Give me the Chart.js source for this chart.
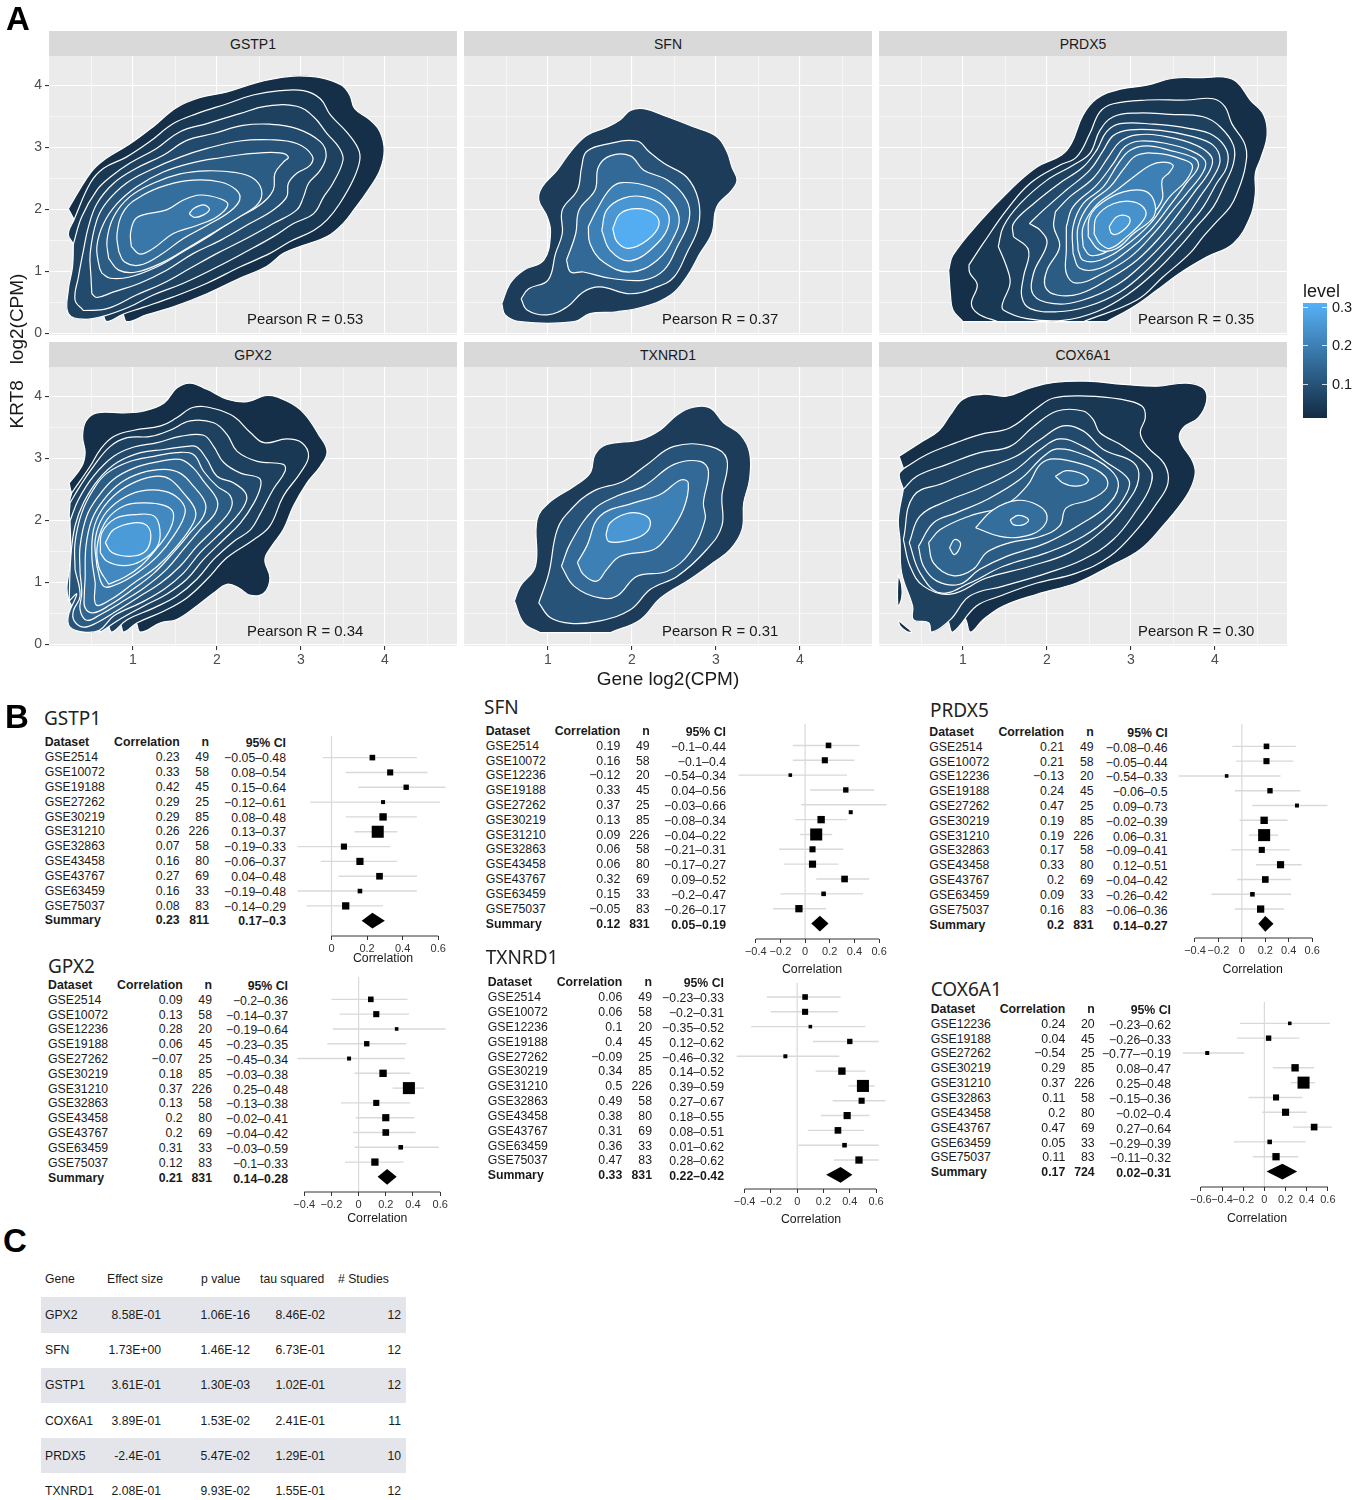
<!DOCTYPE html>
<html>
<head>
<meta charset="utf-8">
<title>KRT8 correlation figure</title>
<script src="https://cdn.jsdelivr.net/npm/chart.js@4"></script>
<style>
  html, body { margin: 0; background: #fff; }
  #page { position: relative; width: 1357px; height: 1500px; overflow: hidden; font-family: "Liberation Sans", Arial, sans-serif; }
  #page canvas { position: absolute; }
  .t { position: absolute; white-space: pre; line-height: 1; color: #1a1a1a; }
  .box { position: absolute; }
</style>
</head>
<body>
<div id="page"></div>
<script>
// ---- panel A: density contours, x,y pairs in log2(CPM), outer level first ----
const panelNames = ['GSTP1', 'SFN', 'PRDX5', 'GPX2', 'TXNRD1', 'COX6A1'];
const pearsonLabels = ['Pearson R = 0.53', 'Pearson R = 0.37', 'Pearson R = 0.35', 'Pearson R = 0.34', 'Pearson R = 0.31', 'Pearson R = 0.30'];

const gstp1Levels = [.02, .04, .06, .08, .10, .12, .14, .16, .18, .20];
const gstp1Contours = [
  [.23,2.01,.49,2.58,.65,2.79,.96,3.05,1.24,3.33,1.52,3.64,1.80,3.80,2.12,3.89,2.47,4.04,2.75,4.12,2.97,4.15,3.23,4.12,3.48,4.00,3.58,3.84,3.64,3.62,3.82,3.44,3.94,3.25,3.99,2.95,3.94,2.63,3.80,2.31,3.64,2.01,3.50,1.77,3.31,1.56,3.03,1.42,2.79,1.29,2.59,1.08,2.27,.89,1.88,.64,1.48,.43,1.16,.30,.93,.19,.88,.32,.30,1.83],
  [.30,1.84,.49,2.42,.65,2.66,.92,2.84,1.20,3.09,1.48,3.38,1.76,3.54,2.12,3.70,2.43,3.84,2.75,3.91,3.03,3.91,3.23,3.78,3.35,3.52,3.54,3.25,3.68,2.98,3.70,2.79,3.62,2.47,3.46,2.09,3.31,1.83,3.15,1.66,2.87,1.48,2.63,1.29,2.27,1.07,1.88,.81,1.48,.59,1.12,.42,.88,.31,.69,.19,.65,.28,.29,1.44,.23,1.60],
  [.29,1.44,.39,1.88,.57,2.31,.73,2.52,.96,2.74,1.28,2.98,1.56,3.25,1.88,3.38,2.27,3.54,2.59,3.66,2.95,3.66,3.15,3.49,3.31,3.22,3.46,2.98,3.50,2.79,3.38,2.42,3.27,2.20,3.15,1.93,2.91,1.77,2.67,1.56,2.35,1.32,2.00,1.07,1.60,.81,1.24,.62,.96,.43,.65,.28,.41,.23,.23,.32,.23,.70,.28,1.07],
  [.41,.37,.31,.54,.35,.91,.41,1.34,.47,1.72,.57,2.09,.77,2.42,1.04,2.66,1.36,2.87,1.64,3.11,1.96,3.22,2.31,3.35,2.63,3.37,2.95,3.30,3.23,3.09,3.30,2.87,3.23,2.63,3.09,2.42,3.03,2.20,2.95,1.99,2.67,1.77,2.35,1.53,2.00,1.29,1.68,1.05,1.36,.81,1.04,.62,.69,.40],
  [.51,.64,.50,.91,.49,1.29,.57,1.83,.69,2.12,.92,2.42,1.20,2.63,1.56,2.84,1.88,2.98,2.27,3.10,2.63,3.12,2.95,3.06,3.13,2.87,3.11,2.71,2.95,2.58,2.85,2.42,2.83,2.20,2.67,1.99,2.39,1.77,2.04,1.50,1.72,1.29,1.40,1.02,1.08,.81,.77,.67,.57,.58],
  [.63,.97,.60,1.07,.57,1.40,.65,1.77,.81,2.09,1.04,2.36,1.36,2.60,1.68,2.74,2.04,2.83,2.43,2.90,2.75,2.91,2.85,2.84,2.79,2.76,2.69,2.58,2.67,2.31,2.51,2.07,2.23,1.85,1.92,1.58,1.60,1.32,1.28,1.07,.96,.91,.73,.89],
  [.71,1.21,.69,1.50,.77,1.88,.96,2.20,1.24,2.42,1.56,2.57,1.88,2.62,2.23,2.59,2.43,2.50,2.53,2.31,2.49,2.09,2.27,1.88,2.00,1.66,1.68,1.40,1.36,1.15,1.04,.99,.83,1.02],
  [.83,1.32,.81,1.61,.90,1.99,1.12,2.23,1.40,2.39,1.72,2.47,2.04,2.44,2.23,2.31,2.27,2.15,2.15,1.96,1.88,1.74,1.60,1.53,1.32,1.26,1.08,1.10,.90,1.15],
  [.98,1.40,.97,1.61,1.02,1.83,1.12,1.91,1.40,1.99,1.60,2.15,1.80,2.23,2.04,2.17,2.13,2.07,2.00,1.88,1.76,1.74,1.48,1.61,1.24,1.37,1.08,1.28],
  [1.67,1.93,1.72,2.01,1.84,2.07,1.91,2.00,1.84,1.91,1.73,1.87]
];

const sfnLevels = [.05, .10, .15, .20, .25, .30];
const sfnContours = [
  [.45,.48,.55,.81,.71,1.02,.95,1.18,1.03,1.61,.99,1.88,.89,2.15,.93,2.36,1.11,2.63,1.27,2.93,1.46,3.19,1.70,3.32,1.86,3.44,1.98,3.59,2.14,3.62,2.42,3.49,2.73,3.33,3.01,3.17,3.13,2.93,3.19,2.68,3.25,2.47,3.19,2.31,3.01,2.04,2.95,1.61,2.81,1.29,2.65,.91,2.46,.62,2.14,.43,1.82,.35,1.50,.32,1.31,.19,.67,.19,.49,.30],
  [.68,.56,.77,.72,1.00,.86,1.09,1.29,1.17,1.61,1.17,1.99,1.35,2.31,1.40,2.68,1.46,2.93,1.70,3.05,2.06,3.10,2.20,2.93,2.38,2.74,2.65,2.52,2.79,2.15,2.79,1.72,2.65,1.29,2.50,.91,2.30,.75,1.98,.64,1.62,.75,1.42,.67,1.23,.43,.99,.30,.75,.38],
  [1.22,1.18,1.33,1.61,1.37,1.99,1.56,2.31,1.60,2.68,1.74,2.86,1.98,2.86,2.14,2.63,2.42,2.47,2.65,2.15,2.68,1.83,2.54,1.40,2.38,1.02,2.14,.86,1.74,.89,1.42,.99,1.27,.99],
  [1.48,1.72,1.58,1.99,1.74,2.33,1.88,2.43,2.22,2.36,2.44,2.17,2.56,1.88,2.50,1.56,2.30,1.18,1.98,.99,1.66,1.15,1.50,1.45],
  [1.64,1.66,1.70,1.99,1.90,2.18,2.14,2.20,2.38,2.04,2.44,1.77,2.30,1.45,1.98,1.17,1.74,1.34],
  [1.77,1.69,1.86,1.93,2.06,2.01,2.26,1.93,2.32,1.74,2.18,1.50,1.96,1.37,1.82,1.48]
];

const prdx5Levels = [.02, .04, .06, .08, .10, .12, .14, .16, .18, .20, .22, .24, .26];
const prdx5Contours = [
  [.83,1.02,.88,1.26,1.20,1.80,1.56,2.31,1.88,2.68,2.17,2.87,2.29,3.06,2.43,3.52,2.59,3.78,2.83,3.92,3.19,4.00,3.50,4.11,3.86,4.12,4.10,4.13,4.26,4.05,4.42,3.76,4.58,3.52,4.62,3.19,4.55,2.84,4.48,2.58,4.48,2.25,4.42,1.88,4.22,1.45,3.90,1.23,3.58,.97,3.31,.70,3.03,.43,2.71,.19,2.71,.19,1.00,.19,1.00,.19,.88,.38,.85,.64],
  [1.07,1.10,1.24,1.45,1.52,1.99,1.80,2.42,2.15,2.71,2.35,2.84,2.51,3.22,2.63,3.57,2.79,3.70,3.19,3.76,3.66,3.76,3.98,3.78,4.12,3.65,4.20,3.38,4.36,3.03,4.36,2.68,4.26,2.25,4.18,2.04,4.02,1.80,3.86,1.56,3.70,1.29,3.38,.91,3.07,.54,2.43,.19,2.43,.19,1.42,.19,1.42,.19,1.18,.32,1.10,.48,1.17,.78,1.08,.98],
  [1.42,1.40,1.48,1.72,1.68,2.09,2.00,2.47,2.31,2.71,2.51,2.90,2.63,3.27,2.79,3.49,3.07,3.55,3.46,3.53,3.86,3.49,4.06,3.33,4.22,3.03,4.22,2.74,4.10,2.36,3.98,2.04,3.78,1.72,3.58,1.40,3.27,.97,2.95,.62,2.59,.35,2.19,.21,1.76,.24,1.48,.38,1.47,.48,1.56,.81,1.52,1.07],
  [1.60,1.56,1.60,1.77,1.84,2.09,2.15,2.42,2.43,2.68,2.59,2.95,2.71,3.25,2.87,3.38,3.27,3.37,3.70,3.30,3.98,3.19,4.14,2.95,4.14,2.68,4.02,2.42,3.86,2.04,3.70,1.77,3.46,1.40,3.19,1.02,2.87,.67,2.47,.43,2.12,.35,1.80,.40,1.70,.59,1.72,.91,1.78,1.34],
  [1.79,1.77,1.96,1.99,2.23,2.31,2.51,2.63,2.67,2.95,2.79,3.19,2.99,3.28,3.35,3.27,3.74,3.17,3.98,3.03,4.06,2.79,3.98,2.52,3.82,2.20,3.66,1.88,3.42,1.50,3.15,1.13,2.83,.78,2.43,.54,2.08,.48,1.84,.62,1.84,.97,2.00,1.45,1.92,1.66],
  [2.10,1.96,2.27,2.20,2.55,2.50,2.73,2.84,2.87,3.09,3.07,3.20,3.42,3.17,3.78,3.03,3.96,2.84,3.94,2.63,3.74,2.25,3.58,1.96,3.35,1.56,3.07,1.18,2.75,.89,2.39,.64,2.12,.62,1.98,.75,2.00,1.02,2.15,1.40,2.08,1.72],
  [2.23,1.72,2.31,2.04,2.59,2.39,2.79,2.74,2.93,3.01,3.11,3.10,3.42,3.06,3.70,2.95,3.88,2.79,3.86,2.60,3.66,2.25,3.50,1.99,3.27,1.61,2.99,1.23,2.67,.97,2.35,.81,2.23,.97,2.23,1.34],
  [2.31,1.29,2.31,1.72,2.43,2.09,2.67,2.36,2.85,2.74,2.99,2.95,3.19,3.02,3.46,2.95,3.76,2.82,3.80,2.68,3.66,2.42,3.48,2.09,3.23,1.66,2.95,1.32,2.63,1.05,2.39,1.05],
  [2.37,1.34,2.37,1.72,2.51,2.09,2.75,2.36,2.93,2.68,3.07,2.87,3.31,2.90,3.58,2.82,3.73,2.71,3.66,2.47,3.46,2.20,3.23,1.77,2.91,1.39,2.63,1.18,2.43,1.18],
  [2.43,1.40,2.43,1.72,2.59,2.07,2.83,2.31,3.03,2.52,3.23,2.71,3.38,2.76,3.50,2.71,3.46,2.60,3.37,2.47,3.37,2.15,3.19,1.83,2.91,1.48,2.67,1.29,2.51,1.26],
  [2.49,1.56,2.51,1.88,2.67,2.12,2.91,2.28,3.15,2.30,3.27,2.15,3.27,1.88,3.03,1.61,2.83,1.37,2.63,1.34],
  [2.56,1.61,2.59,1.88,2.79,2.09,3.03,2.12,3.17,1.99,3.15,1.83,2.95,1.56,2.75,1.37,2.63,1.45],
  [2.74,1.72,2.83,1.88,2.97,1.88,2.98,1.77,2.85,1.61,2.77,1.61]
];

const gpx2Levels = [.02, .04, .06, .08, .10, .12, .14, .16, .18, .20, .22, .24, .26];
const gpx2Contours = [
  [.24,2.60,.39,2.87,.43,3.09,.40,3.35,.44,3.60,.57,3.73,.89,3.73,1.13,3.76,1.37,3.89,1.52,4.13,1.68,4.21,1.88,4.11,2.12,3.95,2.36,3.91,2.60,4.01,2.83,3.92,3.03,3.73,3.21,3.38,3.31,3.11,3.23,2.87,3.07,2.60,2.91,2.23,2.79,1.85,2.65,1.58,2.57,1.37,2.63,1.07,2.56,.83,2.40,.79,2.26,.91,2.12,.97,1.96,.83,1.76,.62,1.52,.40,1.33,.35,1.09,.20,1.04,.35,.27,2.44],
  [.27,2.44,.49,2.87,.61,3.14,.77,3.35,1.01,3.45,1.33,3.52,1.52,3.65,1.72,3.82,1.96,3.80,2.20,3.67,2.40,3.41,2.56,3.25,2.83,3.31,3.01,3.25,3.09,3.03,2.99,2.76,2.79,2.39,2.63,1.91,2.44,1.69,2.12,1.40,1.88,1.05,1.64,.75,1.37,.54,1.05,.35,.89,.20,.86,.30,.25,2.28],
  [.25,2.28,.37,2.55,.53,2.87,.73,3.19,.93,3.33,1.21,3.35,1.44,3.45,1.68,3.60,1.96,3.57,2.12,3.38,2.24,3.11,2.48,2.95,2.79,2.90,2.81,2.79,2.67,2.50,2.52,2.12,2.40,1.85,2.20,1.66,1.96,1.37,1.76,1.05,1.52,.78,1.25,.59,.93,.40,.75,.20,.71,.30,.25,1.99],
  [.25,1.99,.35,2.33,.53,2.71,.77,3.03,1.01,3.18,1.29,3.25,1.56,3.35,1.84,3.37,1.96,3.19,2.08,2.93,2.28,2.76,2.50,2.68,2.52,2.55,2.44,2.28,2.28,1.96,2.08,1.69,1.84,1.37,1.64,1.05,1.40,.81,1.13,.62,.81,.38,.61,.20,.60,.24,.24,.70,.26,1.42],
  [.24,.70,.26,1.42,.31,1.91,.41,2.28,.59,2.66,.81,2.93,1.09,3.09,1.37,3.14,1.64,3.19,1.76,3.18,1.88,2.98,2.00,2.71,2.20,2.60,2.34,2.44,2.34,2.28,2.20,2.01,2.00,1.74,1.80,1.48,1.60,1.15,1.37,.89,1.09,.67,.77,.46,.60,.23,.41,.20,.25,.28,.23,.46,.33,.81],
  [.31,1.21,.31,1.64,.39,2.12,.53,2.50,.69,2.76,.97,2.95,1.25,3.03,1.52,3.09,1.72,3.06,1.84,2.79,2.00,2.55,2.16,2.39,2.16,2.17,1.96,1.85,1.76,1.58,1.56,1.26,1.33,.99,1.05,.75,.77,.51,.57,.35,.41,.28,.30,.38,.29,.54,.37,.78],
  [.37,1.15,.37,1.58,.45,2.07,.59,2.39,.77,2.66,1.01,2.84,1.29,2.94,1.56,2.98,1.72,2.84,1.84,2.63,2.00,2.33,1.98,2.12,1.80,1.85,1.60,1.53,1.40,1.21,1.13,.91,.85,.67,.61,.48,.45,.39,.37,.56,.39,.83],
  [.43,1.05,.44,1.58,.51,2.01,.65,2.33,.85,2.60,1.09,2.76,1.37,2.82,1.56,2.76,1.72,2.55,1.86,2.28,1.84,2.07,1.68,1.80,1.48,1.48,1.25,1.15,.97,.86,.73,.64,.53,.51,.43,.59,.42,.78],
  [.55,.99,.56,.64,.73,.72,1.01,.99,1.29,1.26,1.52,1.58,1.72,1.96,1.74,2.17,1.60,2.44,1.44,2.66,1.29,2.71,1.05,2.63,.81,2.44,.63,2.17,.53,1.85,.51,1.42],
  [.57,1.26,.55,1.69,.65,2.07,.85,2.33,1.09,2.47,1.37,2.47,1.56,2.33,1.62,2.12,1.48,1.74,1.29,1.42,1.05,1.15,.81,.97,.65,.94],
  [.71,.97,.59,1.26,.58,1.64,.69,2.01,.89,2.23,1.13,2.28,1.37,2.24,1.48,2.12,1.44,1.85,1.29,1.56,1.09,1.26,.91,1.09],
  [.61,1.48,.63,1.80,.79,2.03,1.01,2.09,1.25,2.07,1.32,1.85,1.29,1.58,1.09,1.34,.89,1.27,.69,1.34],
  [.67,1.64,.77,1.85,1.01,1.96,1.17,1.91,1.21,1.69,1.13,1.48,.95,1.42,.75,1.48]
];

const txnrd1Levels = [.05, .10, .15, .20, .25];
const txnrd1Contours = [
  [.60,.70,.67,.94,.85,1.26,.87,2.01,1.01,2.28,1.31,2.55,1.50,2.76,1.56,3.06,1.70,3.22,2.10,3.30,2.34,3.46,2.54,3.70,2.73,3.82,2.93,3.81,3.09,3.57,3.29,3.38,3.40,3.09,3.40,2.66,3.33,2.28,3.31,1.85,3.17,1.53,2.97,1.32,2.69,1.05,2.34,.75,2.10,.40,1.74,.19,1.74,.19,.91,.19,.91,.19,.71,.35],
  [.89,.67,1.01,1.15,1.11,1.85,1.27,2.17,1.54,2.47,1.90,2.63,2.18,2.90,2.50,3.19,2.93,3.19,3.13,2.98,3.07,2.39,3.07,1.91,2.89,1.53,2.54,1.10,2.22,.89,1.98,.56,1.62,.38,1.27,.34,1.03,.43],
  [1.16,1.26,1.27,1.64,1.54,2.17,1.82,2.39,2.14,2.55,2.50,2.90,2.81,2.95,2.91,2.79,2.85,2.28,2.87,2.01,2.69,1.48,2.42,1.18,2.06,1.10,1.82,.78,1.62,.75,1.31,.94],
  [1.35,1.32,1.46,1.58,1.62,2.07,2.02,2.28,2.34,2.42,2.58,2.65,2.67,2.60,2.61,2.17,2.42,1.74,2.26,1.53,1.86,1.42,1.70,1.21,1.58,1.02,1.42,1.13],
  [1.69,1.77,1.74,1.96,1.94,2.11,2.14,2.09,2.22,1.96,2.14,1.77,1.90,1.66,1.72,1.66]
];

const cox6a1Levels = [.02, .02, .02, .04, .06, .08, .10, .12, .14, .16, .16, .16, .18];
const cox6a1Contours = [
  [.24,3.03,.49,3.25,.71,3.44,.85,3.70,1.00,3.95,1.24,4.03,1.52,4.00,1.80,4.13,2.08,4.22,2.47,4.24,2.91,4.19,3.31,4.16,3.66,4.21,3.86,4.13,3.90,3.92,3.80,3.65,3.62,3.49,3.58,3.30,3.74,2.93,3.76,2.71,3.66,2.39,3.38,1.91,3.11,1.53,2.75,1.26,2.35,.99,1.88,.81,1.48,.62,1.24,.40,1.09,.20,1.04,.38,.29,2.84],
  [.23,1.13,.27,.95,.27,.75,.23,.62,.22,.85],
  [.23,.39,.31,.30,.39,.20,.33,.21,.25,.30],
  [.30,2.84,.57,3.06,.92,3.25,1.20,3.38,1.56,3.49,1.88,3.81,2.08,3.97,2.47,4.00,2.87,3.95,3.13,3.84,3.17,3.65,3.11,3.41,3.19,3.19,3.40,2.90,3.44,2.60,3.31,2.28,3.07,1.85,2.75,1.42,2.35,1.15,1.88,.99,1.44,.78,1.16,.62,.88,.20,.83,.35,.29,2.50,.24,2.74],
  [.29,2.50,.45,2.71,.81,2.90,1.20,3.09,1.56,3.19,1.84,3.51,2.12,3.76,2.43,3.76,2.55,3.62,2.63,3.41,2.91,3.19,3.23,2.82,3.23,2.55,3.07,2.17,2.79,1.69,2.43,1.37,2.00,1.15,1.48,.94,1.08,.78,.85,.40,.63,.20,.59,.35,.41,.40,.40,.62,.27,1.15,.25,1.69,.23,2.01],
  [.29,1.69,.41,2.39,.77,2.60,1.12,2.79,1.60,3.01,1.92,3.30,2.19,3.52,2.43,3.44,2.67,3.14,3.03,2.93,3.09,2.66,2.95,2.28,2.67,1.85,2.27,1.48,1.80,1.26,1.28,1.07,.85,.81,.53,.94,.37,1.26],
  [.36,1.64,.49,2.07,.81,2.31,1.20,2.52,1.60,2.79,1.92,3.14,2.15,3.31,2.43,3.19,2.71,2.93,2.97,2.66,2.95,2.44,2.75,2.07,2.43,1.74,2.00,1.48,1.48,1.26,1.08,.99,.73,.83,.49,1.15],
  [.47,1.58,.65,1.96,.92,2.12,1.28,2.33,1.68,2.66,1.96,3.03,2.12,3.15,2.43,3.06,2.75,2.82,2.85,2.55,2.71,2.23,2.43,1.96,2.00,1.64,1.52,1.42,1.20,1.21,.96,.97,.69,1.02,.53,1.26],
  [.59,1.64,.73,1.85,1.08,2.07,1.48,2.23,1.76,2.55,1.92,2.90,2.08,2.99,2.43,2.90,2.69,2.71,2.71,2.52,2.51,2.33,2.23,2.20,2.15,1.91,1.92,1.74,1.56,1.64,1.28,1.48,1.12,1.21,.88,1.11,.65,1.31],
  [.84,1.56,.90,1.69,.97,1.63,.94,1.50,.89,1.45],
  [1.15,1.88,1.36,2.17,1.64,2.32,1.88,2.25,2.00,2.07,1.92,1.85,1.68,1.73,1.44,1.74],
  [2.10,2.71,2.23,2.80,2.43,2.74,2.49,2.63,2.35,2.55,2.19,2.60],
  [1.56,2.01,1.66,2.08,1.78,2.01,1.72,1.93,1.60,1.93]
];

// ---- panel B: correlation per dataset, last entry of each list is the summary ----
const gstp1Sets = ['GSE2514','GSE10072','GSE19188','GSE27262','GSE30219','GSE31210','GSE32863','GSE43458','GSE43767','GSE63459','GSE75037','Summary'];
const gstp1R = [.23,.33,.42,.29,.29,.26,.07,.16,.27,.16,.08,.23];
const gstp1N = [49,58,45,25,85,226,58,80,69,33,83,811];
const gstp1Lo = [-.05,.08,.15,-.12,.08,.13,-.19,-.06,.04,-.19,-.14,.17];
const gstp1Hi = [.48,.54,.64,.61,.48,.37,.33,.37,.48,.48,.29,.3];

const sfnSets = ['GSE2514','GSE10072','GSE12236','GSE19188','GSE27262','GSE30219','GSE31210','GSE32863','GSE43458','GSE43767','GSE63459','GSE75037','Summary'];
const sfnR = [.19,.16,-.12,.33,.37,.13,.09,.06,.06,.32,.15,-.05,.12];
const sfnN = [49,58,20,45,25,85,226,58,80,69,33,83,831];
const sfnLo = [-.1,-.1,-.54,.04,-.03,-.08,-.04,-.21,-.17,.09,-.2,-.26,.05];
const sfnHi = [.44,.4,.34,.56,.66,.34,.22,.31,.27,.52,.47,.17,.19];

const prdx5Sets = sfnSets;
const prdx5R = [.21,.21,-.13,.24,.47,.19,.19,.17,.33,.2,.09,.16,.2];
const prdx5N = [49,58,20,45,25,85,226,58,80,69,33,83,831];
const prdx5Lo = [-.08,-.05,-.54,-.06,.09,-.02,.06,-.09,.12,-.04,-.26,-.06,.14];
const prdx5Hi = [.46,.44,.33,.5,.73,.39,.31,.41,.51,.42,.42,.36,.27];

const gpx2Sets = sfnSets;
const gpx2R = [.09,.13,.28,.06,-.07,.18,.37,.13,.2,.2,.31,.12,.21];
const gpx2N = [49,58,20,45,25,85,226,58,80,69,33,83,831];
const gpx2Lo = [-.2,-.14,-.19,-.23,-.45,-.03,.25,-.13,-.02,-.04,-.03,-.1,.14];
const gpx2Hi = [.36,.37,.64,.35,.34,.38,.48,.38,.41,.42,.59,.33,.28];

const txnrd1Sets = sfnSets;
const txnrd1R = [.06,.06,.1,.4,-.09,.34,.5,.49,.38,.31,.36,.47,.33];
const txnrd1N = [49,58,20,45,25,85,226,58,80,69,33,83,831];
const txnrd1Lo = [-.23,-.2,-.35,.12,-.46,.14,.39,.27,.18,.08,.01,.28,.22];
const txnrd1Hi = [.33,.31,.52,.62,.32,.52,.59,.67,.55,.51,.62,.62,.42];

const cox6a1Sets = ['GSE12236','GSE19188','GSE27262','GSE30219','GSE31210','GSE32863','GSE43458','GSE43767','GSE63459','GSE75037','Summary'];
const cox6a1R = [.24,.04,-.54,.29,.37,.11,.2,.47,.05,.11,.17];
const cox6a1N = [20,45,25,85,226,58,80,69,33,83,724];
const cox6a1Lo = [-.23,-.26,-.77,.08,.25,-.15,-.02,.27,-.29,-.11,.02];
const cox6a1Hi = [.62,.33,-.19,.47,.48,.36,.4,.64,.39,.32,.31];

const forestTicks = [-.6, -.4, -.2, 0, .2, .4, .6];

// ---- panel C: table ----
const tableHead = ['Gene', 'Effect size', 'p value', 'tau squared', '# Studies'];
const tableGenes = ['GPX2', 'SFN', 'GSTP1', 'COX6A1', 'PRDX5', 'TXNRD1'];
const tableEffect = ['8.58E-01', '1.73E+00', '3.61E-01', '3.89E-01', '-2.4E-01', '2.08E-01'];
const tableP = ['1.06E-16', '1.46E-12', '1.30E-03', '1.53E-02', '5.47E-02', '9.93E-02'];
const tableTau = ['8.46E-02', '6.73E-01', '1.02E-01', '2.41E-01', '1.29E-01', '1.55E-01'];
const tableStudies = [12, 12, 12, 11, 10, 12];

// ---- helpers ----
Chart.defaults.animation = false;
Chart.defaults.plugins.legend.display = false;
Chart.defaults.plugins.tooltip.enabled = false;
Chart.defaults.font.family = '"Liberation Sans", Arial, sans-serif';

const page = document.getElementById('page');

function text(str, x, y, size, opts) {
  opts = opts || {};
  const el = document.createElement('div');
  el.className = 't';
  el.textContent = str;
  el.style.left = x + 'px';
  el.style.top = y + 'px';
  el.style.fontSize = size + 'px';
  if (opts.bold) el.style.fontWeight = 'bold';
  if (opts.family) el.style.fontFamily = opts.family;
  if (opts.color) el.style.color = opts.color;
  const tx = opts.align === 'right' ? '-100%' : opts.align === 'center' ? '-50%' : '0';
  el.style.transform = opts.rotate ? 'translate(-50%,-50%) rotate(-90deg)' : 'translate(' + tx + ',-50%)';
  page.appendChild(el);
}

function box(x, y, w, h, color) {
  const el = document.createElement('div');
  el.className = 'box';
  el.style.cssText = 'left:' + x + 'px;top:' + y + 'px;width:' + w + 'px;height:' + h + 'px;background:' + color;
  page.appendChild(el);
  return el;
}

function canvasAt(x, y, w, h) {
  const c = document.createElement('canvas');
  c.width = w;
  c.height = h;
  c.style.left = x + 'px';
  c.style.top = y + 'px';
  page.appendChild(c);
  return c;
}

// keep the plot rectangle where we asked for it
function fixAxis(size) {
  return s => {
    if (s.isHorizontal()) s.height = size; else s.width = size;
    s.paddingLeft = s.paddingRight = s.paddingTop = s.paddingBottom = 0;
  };
}

function toPoints(flat) {
  const pts = [];
  for (let i = 0; i < flat.length; i += 2) pts.push({x: flat[i], y: flat[i + 1]});
  pts.push({x: flat[0], y: flat[1]});
  return pts;
}

// ggplot default gradient, low to high
const low = [19, 43, 67], high = [86, 177, 247];
function levelColor(level) {
  const t = Math.min(1, (level - .012) / .298);
  return 'rgb(' + low.map((c, i) => Math.round(c + (high[i] - c) * t)).join(',') + ')';
}

const panelBg = {
  id: 'panelBg',
  beforeDraw(chart) {
    const a = chart.chartArea;
    chart.ctx.fillStyle = '#ebebeb';
    chart.ctx.fillRect(a.left, a.top, a.width, a.height);
  }
};

// ---- draw panel A ----
const panelContours = [gstp1Contours, sfnContours, prdx5Contours, gpx2Contours, txnrd1Contours, cox6a1Contours];
const panelLevels = [gstp1Levels, sfnLevels, prdx5Levels, gpx2Levels, txnrd1Levels, cox6a1Levels];
const colLeft = [49, 464, 879];
const rowTop = [56, 367];
const pearsonLeft = [247, 662, 1138];
const panelW = 408, panelH = 279, xUnit = 84, yUnit = 62.1, margin = 30;

panelNames.forEach((name, i) => {
  const col = i % 3, row = Math.floor(i / 3);
  const left = colLeft[col], top = rowTop[row];
  box(left, top - 25, panelW, 25, '#d9d9d9');
  text(name, left + panelW / 2, top - 12.5, 14, {align: 'center'});

  const showX = row === 1, showY = col === 0;
  const major = v => Number.isInteger(v);
  const c = canvasAt(left - margin, top, panelW + margin, panelH + margin);
  new Chart(c, {
    type: 'scatter',
    data: {
      datasets: panelContours[i].map((flat, k) => ({
        data: toPoints(flat),
        showLine: true,
        fill: 'shape',
        tension: .4,
        order: panelContours[i].length - k,
        backgroundColor: levelColor(panelLevels[i][k]),
        borderColor: '#fff',
        borderWidth: 1.2,
        pointRadius: 0
      }))
    },
    options: {
      responsive: false,
      layout: {autoPadding: false},
      scales: {
        x: {
          type: 'linear', min: 0, max: panelW / xUnit,
          border: {display: false},
          grid: {
            color: '#fff',
            lineWidth: ctx => ctx.tick && major(ctx.tick.value) ? 1.1 : .55,
            drawTicks: showX, tickLength: 4,
            tickColor: ctx => ctx.tick && major(ctx.tick.value) && ctx.tick.value > 0 ? '#333' : 'transparent'
          },
          ticks: {
            display: showX, stepSize: .5, includeBounds: false, autoSkip: false, maxRotation: 0,
            padding: 2, color: '#4d4d4d', font: {size: 14},
            callback: v => major(v) && v > 0 ? v : ''
          },
          afterFit: fixAxis(margin)
        },
        y: {
          type: 'linear', min: -1.5 / yUnit, max: (panelH - 1.5) / yUnit,
          border: {display: false},
          grid: {
            color: '#fff',
            lineWidth: ctx => ctx.tick && major(ctx.tick.value) ? 1.1 : .55,
            drawTicks: showY, tickLength: 4,
            tickColor: ctx => ctx.tick && major(ctx.tick.value) ? '#333' : 'transparent'
          },
          ticks: {
            display: showY, stepSize: .5, includeBounds: false, autoSkip: false,
            padding: 3, color: '#4d4d4d', font: {size: 14},
            callback: v => major(v) ? v : ''
          },
          afterFit: fixAxis(margin)
        }
      }
    },
    plugins: [panelBg]
  });
  text(pearsonLabels[i], pearsonLeft[col], top + (row === 0 ? 263 : 264), 14.9);
});

text('KRT8   log2(CPM)', 16, 351, 19, {rotate: true});
text('Gene log2(CPM)', 668, 678, 19, {align: 'center'});
text('level', 1303, 291, 18);

// colour bar
box(1303, 303, 24, 115, 'linear-gradient(to top,' + levelColor(.012) + ',' + levelColor(.31) + ')');
[[.3, 307], [.2, 345], [.1, 384]].forEach(([v, y]) => {
  box(1303, y, 5, 1, 'rgba(255,255,255,.8)');
  box(1322, y, 5, 1, 'rgba(255,255,255,.8)');
  text(v.toFixed(1), 1332, y, 14.5);
});

// ---- draw panel B ----
const minus = v => String(v).replace('-', '\u2212');

const forests = [
  {name: 'GSTP1', sets: gstp1Sets, r: gstp1R, n: gstp1N, lo: gstp1Lo, hi: gstp1Hi, titleX: 44, titleY: 718, head: 742, row0: 757.3, step: 14.83, cols: [44.7, 179.7, 209, 286], x0: 331.7, unit: 177.8, zeroTop: 735.7, axisY: 935.7, tickMin: 0, labelX: 383, labelY: 958},
  {name: 'SFN', sets: sfnSets, r: sfnR, n: sfnN, lo: sfnLo, hi: sfnHi, titleX: 484, titleY: 707, head: 730.7, row0: 745.7, step: 14.82, cols: [485.7, 620.3, 649.7, 726], x0: 805, unit: 123.3, zeroTop: 724.3, axisY: 939, tickMin: -.4, labelX: 812, labelY: 969, shift: {4: .5}},
  {name: 'PRDX5', sets: prdx5Sets, r: prdx5R, n: prdx5N, lo: prdx5Lo, hi: prdx5Hi, titleX: 930, titleY: 710, head: 731.7, row0: 746.7, step: 14.82, cols: [929.3, 1064, 1093.7, 1167.7], x0: 1241.8, unit: 117, zeroTop: 724.3, axisY: 938.7, tickMin: -.4, labelX: 1252.7, labelY: 969},
  {name: 'GPX2', sets: gpx2Sets, r: gpx2R, n: gpx2N, lo: gpx2Lo, hi: gpx2Hi, titleX: 48, titleY: 965.7, head: 985, row0: 999.7, step: 14.82, cols: [48, 182.7, 212, 288], x0: 358.5, unit: 136.3, zeroTop: 977.3, axisY: 1192.7, tickMin: -.4, labelX: 377.3, labelY: 1218.3},
  {name: 'TXNRD1', sets: txnrd1Sets, r: txnrd1R, n: txnrd1N, lo: txnrd1Lo, hi: txnrd1Hi, titleX: 485.7, titleY: 957.3, head: 982.3, row0: 997.3, step: 14.82, cols: [487.7, 622.3, 652, 724], x0: 797.5, unit: 131.3, zeroTop: 983.3, axisY: 1189.3, tickMin: -.4, labelX: 811, labelY: 1219},
  {name: 'COX6A1', sets: cox6a1Sets, r: cox6a1R, n: cox6a1N, lo: cox6a1Lo, hi: cox6a1Hi, titleX: 930.7, titleY: 989.3, head: 1009.3, row0: 1023.7, step: 14.85, cols: [930.7, 1065.3, 1094.7, 1171], x0: 1264.3, unit: 105.6, zeroTop: 1002.3, axisY: 1187.7, tickMin: -.6, labelX: 1257, labelY: 1217.7}
];

const forestFont = 12.3;
forests.forEach(f => {
  text(f.name, f.titleX, f.titleY, 19, {family: '"Noto Sans", sans-serif', color: '#222'});
  text('Dataset', f.cols[0], f.head, forestFont, {bold: true});
  text('Correlation', f.cols[1], f.head, forestFont, {bold: true, align: 'right'});
  text('n', f.cols[2], f.head, forestFont, {bold: true, align: 'right'});
  text('95% CI', f.cols[3], f.head + 1, forestFont, {bold: true, align: 'right'});

  const last = f.sets.length - 1;
  f.sets.forEach((s, i) => {
    const y = f.row0 + i * f.step, bold = i === last;
    text(s, f.cols[0], y, forestFont, {bold});
    text(minus(f.r[i]), f.cols[1], y, forestFont, {bold, align: 'right'});
    text(String(f.n[i]), f.cols[2], y, forestFont, {bold, align: 'right'});
    text(minus(f.lo[i]) + '\u2013' + minus(f.hi[i]), f.cols[3], y + 1, forestFont, {bold, align: 'right'});
  });

  const ticks = forestTicks.filter(v => v >= f.tickMin);
  const xMin = Math.min(ticks[0], ...f.lo) - .15;
  const xMax = Math.max(ticks[ticks.length - 1], ...f.hi) + .15;
  const yMin = (f.zeroTop - f.row0) / f.step;
  const yMax = (f.axisY - f.row0) / f.step;
  const plotH = f.axisY - f.zeroTop;

  const datasets = [];
  // squares on top
  datasets.push({
    data: f.r.slice(0, last).map((v, i) => ({x: v, y: i + ((f.shift && f.shift[i]) || 0)})),
    pointStyle: 'rect',
    pointRadius: f.n.slice(0, last).map(n => .566 * Math.sqrt(n)),
    pointBorderWidth: 0,
    backgroundColor: '#000',
    showLine: false,
    order: 0
  });
  // summary diamond
  datasets.push({
    data: toPoints([f.lo[last], last, f.r[last], last - .53, f.hi[last], last, f.r[last], last + .53]),
    showLine: true, fill: 'shape', backgroundColor: '#000', borderColor: '#000', borderWidth: 0,
    pointRadius: 0, order: 0
  });
  // confidence intervals
  f.lo.slice(0, last).forEach((lo, i) => {
    datasets.push({
      data: [{x: lo, y: i}, {x: f.hi[i], y: i}],
      showLine: true, borderColor: '#d9d9d9', borderWidth: 1.4, pointRadius: 0, order: 1
    });
  });
  // zero line and axis line
  datasets.push({
    data: [{x: 0, y: yMin}, {x: 0, y: yMax}],
    showLine: true, borderColor: '#d9d9d9', borderWidth: 1.2, pointRadius: 0, order: 2
  });
  datasets.push({
    data: [{x: ticks[0], y: yMax}, {x: ticks[ticks.length - 1], y: yMax}],
    showLine: true, borderColor: '#333', borderWidth: 1, pointRadius: 0, order: 1, clip: false
  });

  const c = canvasAt(Math.round(f.x0 + xMin * f.unit), Math.round(f.zeroTop), Math.round((xMax - xMin) * f.unit), Math.round(plotH) + 30);
  new Chart(c, {
    type: 'scatter',
    data: {datasets},
    options: {
      responsive: false,
      clip: false,
      layout: {autoPadding: false},
      scales: {
        x: {
          type: 'linear', min: xMin, max: xMax,
          border: {display: false},
          grid: {drawOnChartArea: false, drawTicks: true, tickLength: 4, tickColor: '#333', lineWidth: 1},
          ticks: {
            autoSkip: false, maxRotation: 0, padding: 2, color: '#333', font: {size: 11},
            callback: v => minus(Math.round(v * 10) / 10)
          },
          afterBuildTicks: s => { s.ticks = ticks.map(value => ({value})); },
          afterFit: fixAxis(30)
        },
        y: {type: 'linear', min: yMin, max: yMax, reverse: true, display: false}
      }
    }
  });
  text('Correlation', f.labelX, f.labelY, forestFont, {align: 'center'});
});

// ---- draw panel C ----
const tableCols = [45, 161, 250, 325, 401];
const headLeft = [45, 107, 201, 260, 338];
const tableRow0 = 1315, tableStep = 35.2;

tableHead.forEach((h, j) => text(h, headLeft[j], 1279, 12.2));
tableGenes.forEach((g, i) => {
  const y = tableRow0 + i * tableStep;
  if (i % 2 === 0) box(41, y - 17.6, 365, 35.2, '#e4e5ea');
  text(g, tableCols[0], y, 12.2);
  text(tableEffect[i], tableCols[1], y, 12.2, {align: 'right'});
  text(tableP[i], tableCols[2], y, 12.2, {align: 'right'});
  text(tableTau[i], tableCols[3], y, 12.2, {align: 'right'});
  text(String(tableStudies[i]), tableCols[4], y, 12.2, {align: 'right'});
});

// panel letters
text('A', 6, 18, 33, {bold: true, color: '#000'});
text('B', 5, 715.7, 33, {bold: true, color: '#000'});
text('C', 3, 1240, 33, {bold: true, color: '#000'});
</script>
</body>
</html>
